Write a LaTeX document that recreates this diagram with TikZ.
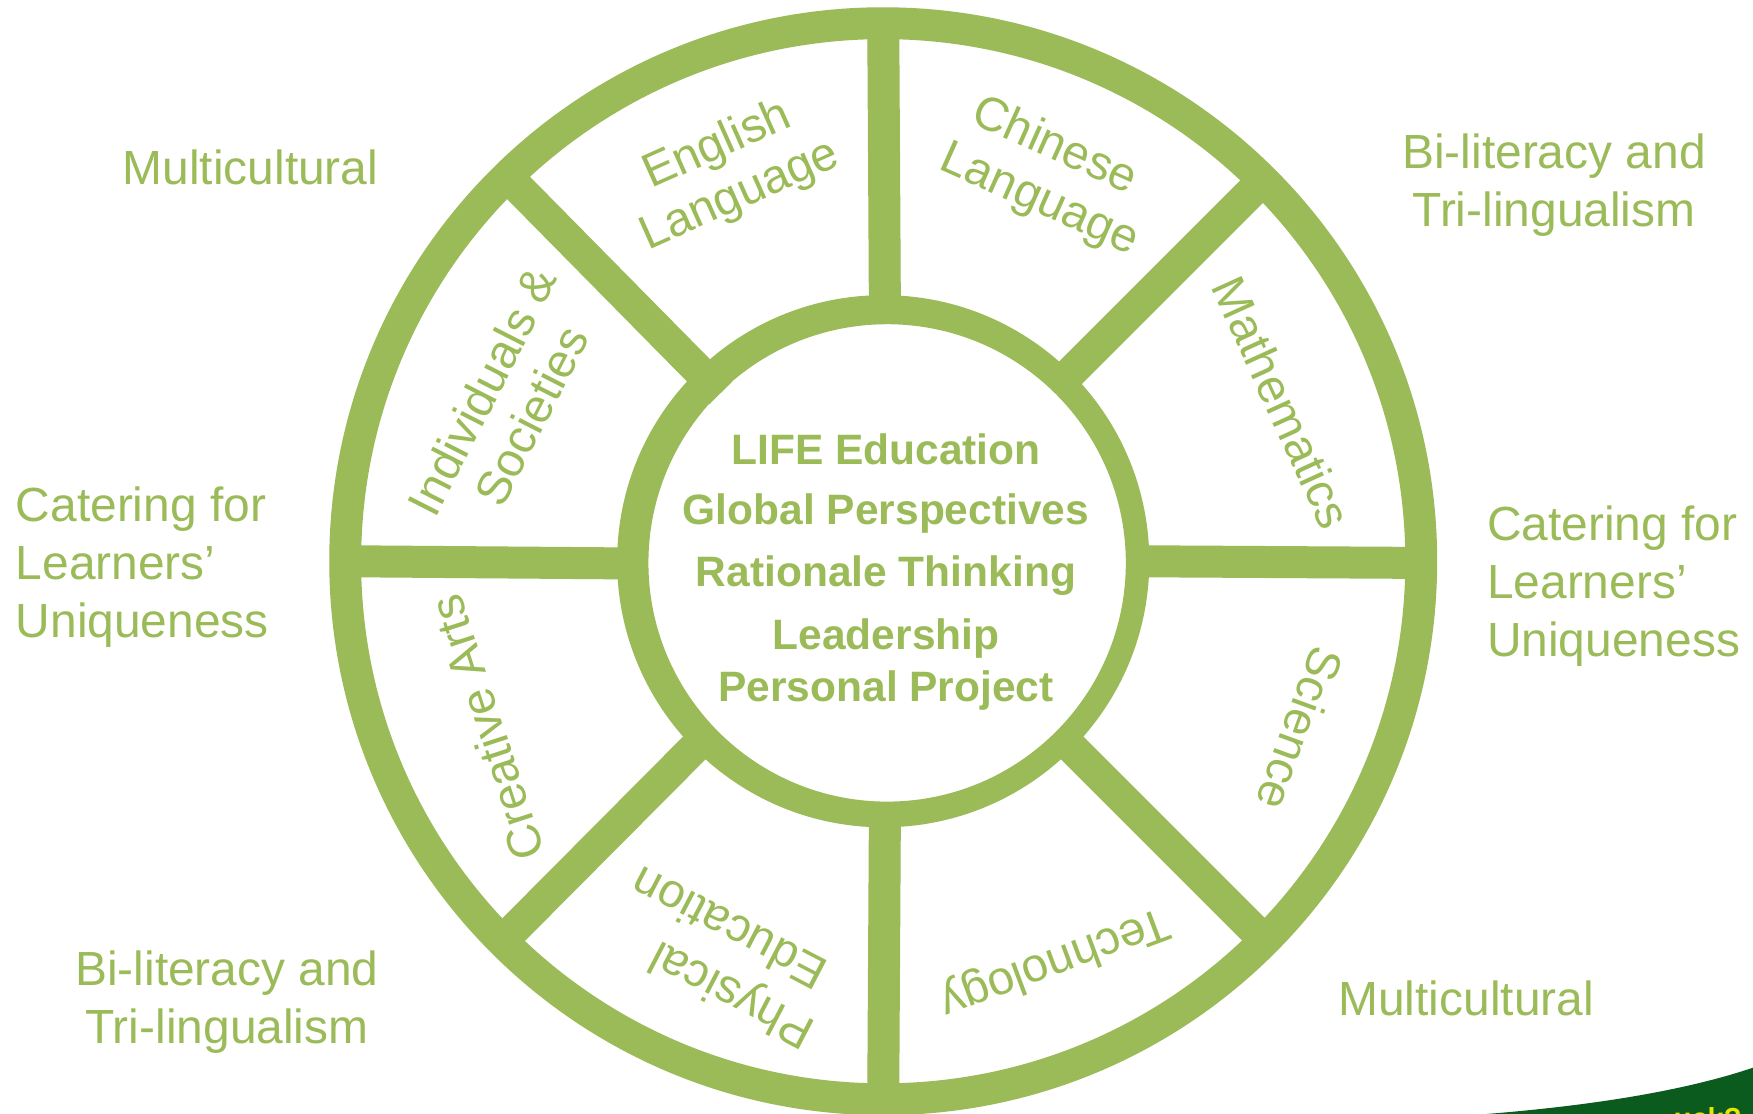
\documentclass[tikz,border=0pt]{standalone}
\usepackage{fontspec}
\setmainfont{Liberation Sans}
\definecolor{leaf}{HTML}{9BBB59}
\definecolor{deep}{HTML}{0B5A1E}
\definecolor{sun}{HTML}{E6E600}
\tikzset{
  lab/.style={text=leaf,inner sep=0pt,align=center,font=\fontsize{47.9}{58}\selectfont},
  seg/.style={text=leaf,inner sep=0pt,align=center,font=\fontsize{47.6}{55}\selectfont},
  core/.style={text=leaf,inner sep=0pt,font=\fontsize{42.5}{50}\selectfont\bfseries},
  spoke/.style={draw=leaf,line width=32pt,line cap=butt}
}
\begin{document}
\begin{tikzpicture}[x=1.118pt,y=-1.118pt]
\useasboundingbox (0,0) rectangle (1568,996.4);
\clip (0,0) rectangle (1568,996.4);
\fill[white] (0,0) rectangle (1568,996.4);
% corner
\fill[deep] (1330,996.4) .. controls (1410,990) and (1500,978) .. (1568,955) -- (1568,996.4) -- cycle;
\begin{scope}
\clip (1330,996.4) .. controls (1410,990) and (1500,978) .. (1568,955) -- (1568,996.4) -- cycle;
\node[text=sun,inner sep=0pt,anchor=base west,font=\fontsize{29}{32}\selectfont\bfseries] (corner) at (1497,1009) {uck?};
\end{scope}
% spokes
\draw[spoke] (790,15) -- (791.5,275);
\draw[spoke] (791.5,730) -- (790,985);
\draw[spoke] (310,502) -- (565,504);
\draw[spoke] (1015,502) -- (1270,503.5);
\draw[spoke] (445,149) -- (644.7,351.5);
\draw[spoke] (1135,156) -- (950,341);
\draw[spoke] (630,660) -- (448,843);
\draw[spoke] (950,660) -- (1130,840);
% rings
\fill[leaf,even odd rule] (790,502) circle[radius=495.5] (790,502) circle[radius=467];
\fill[leaf,even odd rule] (790,502) circle[radius=238] (793.5,503.5) circle[radius=213.5];
% outer labels
\node[lab,anchor=east] (m1) at (338.5,150) {Multicultural};
\node[lab] (b1) at (1390,166) {Bi-literacy and\\Tri-lingualism};
\node[lab,align=left,anchor=west] (c1) at (14,507) {Catering for\\Learners’\\Uniqueness};
\node[lab,align=left,anchor=west] (c2) at (1330,524) {Catering for\\Learners’\\Uniqueness};
\node[lab] (b2) at (203,896) {Bi-literacy and\\Tri-lingualism};
\node[lab,anchor=west] (m2) at (1197,893) {Multicultural};
% segment labels
\node[seg,rotate=24] (s1) at (652,153) {English\\Language};
\node[seg,rotate=-24] (s2) at (933,154) {Chinese\\\hspace*{16pt}Language};
\node[seg,rotate=-65.5] (s3) at (1147,360) {Mathematics};
\node[seg,rotate=-110] (s4) at (1163,652) {Science};
\node[seg,rotate=200.5] (s5) at (943,860) {Technology};
\node[seg,rotate=152.5,align=left] (s6) at (645.7,857.7) {Physical\\[4pt]\hspace*{16pt}Education};
\node[seg,rotate=108] (s7) at (435,651) {Creative Arts};
\node[seg,rotate=63] (s8) at (453,361) {Individuals \&\\Societies};
% core
\node[core] (t1) at (792.5,402) {LIFE Education};
\node[core] (t2) at (792.5,459) {Global Perspectives};
\node[core] (t3) at (792.5,515) {Rationale Thinking};
\node[core] (t4) at (792.5,571) {Leadership};
\node[core] (t5) at (792.5,618) {Personal Project};
\end{tikzpicture}
\end{document}
